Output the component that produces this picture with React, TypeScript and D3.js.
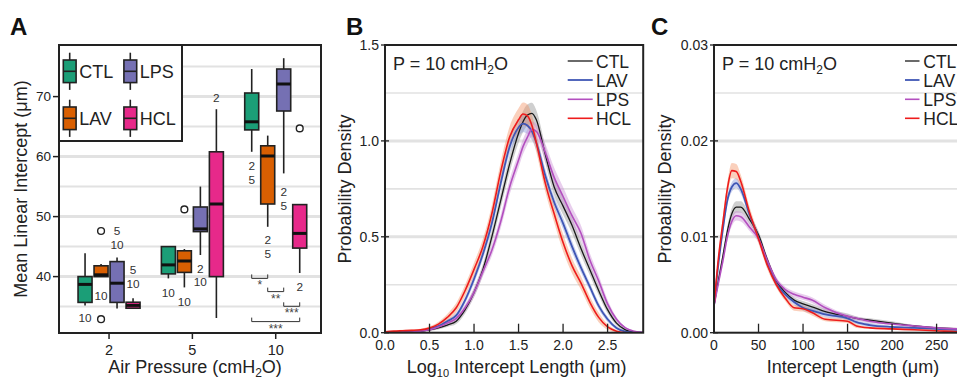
import React from 'react';
import * as d3 from 'd3';

const FONT = 'Liberation Sans, Arial, Helvetica, sans-serif';

// ---- panel A: mean linear intercept boxplots ----
const pressures = ['2', '5', '10'];
const groups = ['CTL', 'LAV', 'LPS', 'HCL'];
const boxColors = ['#1b9e77', '#d95f02', '#7570b3', '#e7298a'];
// [low whisker, q1, median, q3, high whisker] at 2, 5, 10 cmH2O
const ctlStats = [[35.2, 35.7, 38.7, 40.0, 43.9], [39.7, 40.45, 41.95, 45.0, 45.1], [60.8, 64.45, 65.8, 70.6, 74.6]];
const lavStats = [[40.0, 40.0, 40.3, 41.8, 42.1], [38.2, 40.7, 42.6, 44.3, 44.6], [48.3, 52.1, 60.1, 61.8, 63.5]];
const lpsStats = [[34.7, 35.7, 38.9, 42.5, 43.2], [43.6, 47.5, 47.95, 51.6, 55.0], [57.2, 67.6, 72.1, 74.6, 76.4]];
const hclStats = [[34.7, 34.73, 35.2, 35.73, 36.4], [33.1, 40.0, 52.1, 60.8, 67.9], [40.6, 44.75, 47.2, 52.0, 52.0]];
const outliers = [
  { p: '2', g: 'LAV', v: 47.6 },
  { p: '2', g: 'LAV', v: 32.9 },
  { p: '5', g: 'LAV', v: 51.2 },
  { p: '10', g: 'HCL', v: 64.7 },
];
// significance marks (pressures differing), v = centre of first line
const sigLabels = [
  { p: '2', g: 'LPS', v: 47.7, t: ['5', '10'] },
  { p: '2', g: 'LAV', v: 36.8, t: ['10'] },
  { p: '2', g: 'CTL', v: 33.1, t: ['10'] },
  { p: '2', g: 'HCL', v: 41.2, t: ['5', '10'] },
  { p: '5', g: 'CTL', v: 37.3, t: ['10'] },
  { p: '5', g: 'LAV', v: 35.8, t: ['10'] },
  { p: '5', g: 'LPS', v: 41.4, t: ['2', '10'] },
  { p: '5', g: 'HCL', v: 69.8, t: ['2'] },
  { p: '10', g: 'CTL', v: 58.5, t: ['2', '5'] },
  { p: '10', g: 'LPS', v: 54.2, t: ['2', '5'] },
  { p: '10', g: 'LAV', v: 46.15, t: ['2', '5'] },
  { p: '10', g: 'HCL', v: 38.3, t: ['2'] },
];
const brackets = [
  { p: '10', from: 'CTL', to: 'LAV', v: 39.7, t: '*' },
  { p: '10', from: 'LAV', to: 'LPS', v: 37.5, t: '**' },
  { p: '10', from: 'LPS', to: 'HCL', v: 35.05, t: '***' },
  { p: '10', from: 'CTL', to: 'HCL', v: 32.5, t: '***' },
];
const yTicksA = [40, 50, 60, 70];
const yMinorA = [35, 45, 55, 65, 75];

// ---- panel B: log10 intercept length densities ----
const logLen = [0, 0.1, 0.2, 0.3, 0.4, 0.5, 0.6, 0.7, 0.8, 0.9, 1.0, 1.1, 1.2, 1.3, 1.4, 1.5, 1.55, 1.6, 1.65, 1.7, 1.8, 1.9, 2.0, 2.1, 2.2, 2.3, 2.4, 2.5, 2.6, 2.7, 2.8, 2.9];
const ctlLog = [0, 0, 0.002, 0.004, 0.008, 0.015, 0.025, 0.04, 0.06, 0.12, 0.21, 0.33, 0.5, 0.69, 0.88, 1.04, 1.1, 1.135, 1.144, 1.11, 0.93, 0.76, 0.66, 0.56, 0.44, 0.33, 0.22, 0.12, 0.05, 0.015, 0.003, 0];
const lavLog = [0, 0.001, 0.003, 0.006, 0.01, 0.02, 0.035, 0.06, 0.09, 0.17, 0.28, 0.41, 0.57, 0.78, 0.97, 1.07, 1.09, 1.08, 1.05, 0.99, 0.82, 0.68, 0.57, 0.45, 0.34, 0.24, 0.14, 0.07, 0.025, 0.006, 0.001, 0];
const lpsLog = [0, 0, 0.002, 0.004, 0.008, 0.015, 0.03, 0.05, 0.075, 0.13, 0.21, 0.32, 0.43, 0.58, 0.76, 0.9, 0.97, 1.02, 1.06, 1.05, 0.94, 0.81, 0.71, 0.61, 0.52, 0.38, 0.27, 0.15, 0.07, 0.025, 0.008, 0.002];
const hclLog = [0.005, 0.008, 0.01, 0.012, 0.015, 0.025, 0.045, 0.08, 0.13, 0.22, 0.33, 0.45, 0.62, 0.84, 1.02, 1.11, 1.14, 1.13, 1.08, 0.99, 0.78, 0.62, 0.47, 0.35, 0.26, 0.16, 0.08, 0.03, 0.008, 0, 0, 0];
const ctlLogSe = [0, 0, 0.002, 0.003, 0.004, 0.006, 0.008, 0.01, 0.015, 0.02, 0.025, 0.03, 0.035, 0.04, 0.045, 0.05, 0.055, 0.055, 0.055, 0.05, 0.045, 0.045, 0.045, 0.04, 0.035, 0.03, 0.025, 0.02, 0.012, 0.006, 0.002, 0];
const lavLogSe = [0, 0, 0.002, 0.003, 0.004, 0.006, 0.008, 0.01, 0.014, 0.018, 0.022, 0.026, 0.03, 0.035, 0.04, 0.045, 0.045, 0.045, 0.045, 0.04, 0.035, 0.03, 0.03, 0.03, 0.025, 0.02, 0.018, 0.014, 0.008, 0.004, 0.001, 0];
const lpsLogSe = [0, 0, 0.002, 0.003, 0.004, 0.006, 0.008, 0.01, 0.014, 0.018, 0.022, 0.026, 0.03, 0.035, 0.04, 0.04, 0.04, 0.04, 0.04, 0.04, 0.045, 0.05, 0.05, 0.045, 0.04, 0.035, 0.03, 0.022, 0.012, 0.006, 0.002, 0.001];
const hclLogSe = [0.003, 0.004, 0.005, 0.005, 0.006, 0.008, 0.012, 0.018, 0.025, 0.03, 0.035, 0.04, 0.045, 0.05, 0.055, 0.06, 0.06, 0.06, 0.055, 0.05, 0.045, 0.045, 0.045, 0.04, 0.035, 0.03, 0.025, 0.015, 0.006, 0, 0, 0];

// ---- panel C: intercept length densities ----
const lenUm = [0, 5, 10, 15, 20, 25, 30, 40, 50, 60, 70, 80, 90, 100, 110, 125, 150, 160, 175, 200, 225, 250, 275, 290];
const ctlLen = [0.0028, 0.0055, 0.008, 0.0106, 0.0124, 0.0131, 0.0131, 0.0118, 0.0102, 0.0076, 0.0054, 0.0042, 0.0034, 0.003, 0.0027, 0.0022, 0.0017, 0.0015, 0.0013, 0.001, 0.0007, 0.0005, 0.0004, 0.0003];
const lavLen = [0.0028, 0.0072, 0.0108, 0.0138, 0.0152, 0.0156, 0.015, 0.0123, 0.0099, 0.0072, 0.0051, 0.004, 0.0032, 0.0026, 0.0023, 0.0019, 0.0015, 0.0011, 0.0008, 0.0006, 0.0005, 0.0004, 0.0003, 0.0003];
const lpsLen = [0.0028, 0.0052, 0.0075, 0.01, 0.0116, 0.0122, 0.0121, 0.011, 0.0098, 0.0075, 0.0055, 0.0045, 0.004, 0.0037, 0.0034, 0.0026, 0.0017, 0.0015, 0.0012, 0.0009, 0.0007, 0.0005, 0.0004, 0.0004];
const hclLen = [0.0028, 0.0078, 0.0115, 0.015, 0.0169, 0.0168, 0.0158, 0.0125, 0.0098, 0.007, 0.005, 0.0036, 0.0026, 0.0025, 0.0021, 0.0014, 0.0012, 0.0007, 0.0005, 0.0004, 0.0003, 0.0002, 0.0001, 0.0001];
const ctlLenSe = [0.0002, 0.0003, 0.0004, 0.0005, 0.0006, 0.0006, 0.0006, 0.0005, 0.0004, 0.0003, 0.0003, 0.0003, 0.0003, 0.0003, 0.0003, 0.0003, 0.0003, 0.0002, 0.0002, 0.0002, 0.0001, 0.0001, 0.0001, 0.0001];
const lavLenSe = [0.0002, 0.0003, 0.0004, 0.0005, 0.0005, 0.0005, 0.0005, 0.0004, 0.0004, 0.0003, 0.0003, 0.0003, 0.0003, 0.0003, 0.0003, 0.0003, 0.0002, 0.0002, 0.0002, 0.0001, 0.0001, 0.0001, 0.0001, 0.0001];
const lpsLenSe = [0.0002, 0.0003, 0.0004, 0.0004, 0.0005, 0.0005, 0.0005, 0.0004, 0.0004, 0.0003, 0.0003, 0.0003, 0.0003, 0.0003, 0.0003, 0.0003, 0.0002, 0.0002, 0.0002, 0.0001, 0.0001, 0.0001, 0.0001, 0.0001];
const hclLenSe = [0.0002, 0.0004, 0.0006, 0.0007, 0.0008, 0.0008, 0.0007, 0.0006, 0.0005, 0.0004, 0.0003, 0.0003, 0.0003, 0.0003, 0.0003, 0.0002, 0.0002, 0.0002, 0.0001, 0.0001, 0.0001, 0.0001, 0.0001, 0.0001];

const lineColors = ['#1a1a1a', '#3f56b5', '#b34fbf', '#ee1c1c'];
const bandColors = ['#8c8c8c', '#8493d8', '#c98ad3', '#f49060'];
const lineWidths = [1.3, 1.8, 1.6, 1.6];

const GRID = '#e2e2e2';

function PanelA() {
  const left = 59, right = 321, top = 45, bottom = 333;
  const x = d3.scalePoint<string>().domain(pressures).range([left, right]).padding(0.572).align(0.525);
  const dx = d3.scalePoint<string>().domain(groups).range([-24, 24]);
  const y = d3.scaleLinear().domain([30.6, 78.6]).range([bottom, top]);
  const cx = (p: string, g: string) => (x(p) as number) + (dx(g) as number);
  const stats = [ctlStats, lavStats, lpsStats, hclStats];
  const bw = 14;
  return (
    <g fontFamily={FONT}>
      {yMinorA.map(v => <line key={'m' + v} x1={left} x2={right} y1={y(v)} y2={y(v)} stroke={GRID} strokeWidth={2} />)}
      {yTicksA.map(v => <line key={'g' + v} x1={left} x2={right} y1={y(v)} y2={y(v)} stroke={GRID} strokeWidth={3} />)}
      {groups.map((g, gi) => pressures.map((p, pi) => {
        const [lo, q1, med, q3, hi] = stats[gi][pi];
        const xc = cx(p, g);
        return (
          <g key={g + p}>
            <line x1={xc} x2={xc} y1={y(lo)} y2={y(hi)} stroke="#222" strokeWidth={1.6} />
            <rect x={xc - bw / 2} y={y(q3)} width={bw} height={y(q1) - y(q3)} fill={boxColors[gi]} stroke="#222" strokeWidth={1.6} />
            <line x1={xc - bw / 2} x2={xc + bw / 2} y1={y(med)} y2={y(med)} stroke="#111" strokeWidth={3} />
          </g>
        );
      }))}
      {outliers.map((o, i) => <circle key={'o' + i} cx={cx(o.p, o.g)} cy={y(o.v)} r={3.4} fill="#fff" stroke="#222" strokeWidth={1.4} />)}
      {sigLabels.map((s, i) => (
        <text key={'s' + i} x={cx(s.p, s.g)} y={y(s.v) + 4.3} fontSize={11.8} fill="#333" textAnchor="middle">
          {s.t.map((t, j) => <tspan key={j} x={cx(s.p, s.g)} dy={j === 0 ? 0 : 13.8}>{t}</tspan>)}
        </text>
      ))}
      {brackets.map((b, i) => {
        const x1 = cx(b.p, b.from), x2 = cx(b.p, b.to), yy = y(b.v);
        return (
          <g key={'b' + i}>
            <path d={`M${x1},${yy - 4}V${yy}H${x2}V${yy - 4}`} fill="none" stroke="#333" strokeWidth={1} />
            <text x={(x1 + x2) / 2} y={yy + 11} fontSize={12} fill="#444" textAnchor="middle">{b.t}</text>
          </g>
        );
      })}
      {/* legend */}
      <rect x={left} y={top} width={123} height={96} fill="#fff" stroke="#222" strokeWidth={2} />
      {groups.map((g, i) => {
        const ix = 69.7 + Math.floor(i / 2) * 60.6;
        const iy = 71.3 + (i % 2) * 47;
        return (
          <g key={'l' + g}>
            <line x1={ix} x2={ix} y1={iy - 18.6} y2={iy + 18.6} stroke="#222" strokeWidth={1.6} />
            <rect x={ix - 6.4} y={iy - 11.3} width={12.8} height={22.6} fill={boxColors[i]} stroke="#222" strokeWidth={1.6} />
            <line x1={ix - 6.4} x2={ix + 6.4} y1={iy} y2={iy} stroke="#222" strokeWidth={1.6} />
            <text x={ix + 9.5} y={iy + 7} fontSize={18} fill="#222">{g}</text>
          </g>
        );
      })}
      <rect x={left} y={top} width={right - left} height={bottom - top} fill="none" stroke="#222" strokeWidth={2} />
      {yTicksA.map(v => (
        <g key={'t' + v}>
          <line x1={left - 6} x2={left} y1={y(v)} y2={y(v)} stroke="#222" strokeWidth={1.5} />
          <text x={left - 8} y={y(v)} fontSize={13.5} fill="#222" textAnchor="end" dominantBaseline="central">{v}</text>
        </g>
      ))}
      {pressures.map(p => (
        <g key={'x' + p}>
          <line x1={x(p)} x2={x(p)} y1={bottom} y2={bottom + 6} stroke="#222" strokeWidth={1.5} />
          <text x={x(p)} y={355} fontSize={14.5} fill="#222" textAnchor="middle">{p}</text>
        </g>
      ))}
      <text transform="translate(27,189) rotate(-90)" fontSize={18} fill="#222" textAnchor="middle">Mean Linear Intercept (μm)</text>
      <text x={195} y={373} fontSize={18} fill="#222" textAnchor="middle">
        <tspan>Air Pressure (cmH</tspan><tspan dy={4} fontSize={12}>2</tspan><tspan dy={-4}>O)</tspan>
      </text>
      <text x={10} y={35} fontSize={24} fontWeight="bold" fill="#111">A</text>
    </g>
  );
}

type DProps = {
  id: string;
  left: number;
  xDomain: [number, number];
  yDomain: [number, number];
  xTicks: number[];
  yTicks: number[];
  yMinor: number[];
  xFmt: (v: number) => string;
  yFmt: (v: number) => string;
  xs: number[];
  vals: number[][];
  ses: number[][];
  legX0: number;
  legX1: number;
  legTextX: number;
  letter: string;
  letterX: number;
  yTitleX: number;
  xTitleX: number;
  logTitle: boolean;
};

function DensityPanel(props: DProps) {
  const top = 45, bottom = 332.7, width = 258.2;
  const left = props.left, right = left + width;
  const x = d3.scaleLinear().domain(props.xDomain).range([left, right]);
  const y = d3.scaleLinear().domain(props.yDomain).range([bottom, top]);
  const line = d3.line<number>().x((_, i) => x(props.xs[i])).y(d => y(d)).curve(d3.curveMonotoneX);
  const legY = [61, 80, 99.3, 118.3];
  return (
    <g fontFamily={FONT}>
      <clipPath id={props.id}>
        <rect x={left} y={top} width={width} height={bottom - top} />
      </clipPath>
      {props.yMinor.map(v => <line key={'m' + v} x1={left} x2={right} y1={y(v)} y2={y(v)} stroke={GRID} strokeWidth={1.6} />)}
      {props.yTicks.slice(1, -1).map(v => <line key={'g' + v} x1={left} x2={right} y1={y(v)} y2={y(v)} stroke={GRID} strokeWidth={3} />)}
      <g clipPath={`url(#${props.id})`}>
        {props.vals.map((vs, k) => {
          const se = props.ses[k];
          const area = d3.area<number>()
            .x((_, i) => x(props.xs[i]))
            .y0((d, i) => y(Math.max(0, d - se[i])))
            .y1((d, i) => y(d + se[i]))
            .curve(d3.curveMonotoneX);
          return <path key={'a' + k} d={area(vs) || ''} fill={bandColors[k]} opacity={0.42} />;
        })}
        {props.vals.map((vs, k) => (
          <path key={'l' + k} d={line(vs) || ''} fill="none" stroke={lineColors[k]} strokeWidth={lineWidths[k]} />
        ))}
      </g>
      <rect x={left} y={top} width={width} height={bottom - top} fill="none" stroke="#222" strokeWidth={2} />
      {props.yTicks.map(v => (
        <g key={'yt' + v}>
          <line x1={left - 4} x2={left + 4} y1={y(v)} y2={y(v)} stroke="#222" strokeWidth={1.3} />
          <text x={left - 6} y={y(v)} fontSize={14} fill="#222" textAnchor="end" dominantBaseline="central">{props.yFmt(v)}</text>
        </g>
      ))}
      {props.xTicks.map(v => (
        <g key={'xt' + v}>
          <line x1={x(v)} x2={x(v)} y1={bottom} y2={bottom - 9} stroke="#222" strokeWidth={1.3} />
          <text x={x(v)} y={349.5} fontSize={14} fill="#222" textAnchor="middle">{props.xFmt(v)}</text>
        </g>
      ))}
      <text x={left + 8} y={69.5} fontSize={18} fill="#222">
        <tspan>P = 10 cmH</tspan><tspan dy={4} fontSize={12}>2</tspan><tspan dy={-4}>O</tspan>
      </text>
      {groups.map((g, k) => (
        <g key={'lg' + g}>
          <line x1={props.legX0} x2={props.legX1} y1={legY[k]} y2={legY[k]} stroke={lineColors[k]} strokeWidth={lineWidths[k]} />
          <text x={props.legTextX} y={legY[k] + 6.5} fontSize={17.5} fill="#222">{g}</text>
        </g>
      ))}
      <text transform={`translate(${props.yTitleX},189) rotate(-90)`} fontSize={18} fill="#222" textAnchor="middle">Probability Density</text>
      {props.logTitle ? (
        <text x={props.xTitleX} y={373} fontSize={18} fill="#222" textAnchor="middle">
          <tspan>Log</tspan><tspan dy={4} fontSize={11}>10</tspan><tspan dy={-4}> Intercept Length (μm)</tspan>
        </text>
      ) : (
        <text x={props.xTitleX} y={373} fontSize={18} fill="#222" textAnchor="middle">Intercept Length (μm)</text>
      )}
      <text x={props.letterX} y={35} fontSize={24} fontWeight="bold" fill="#111">{props.letter}</text>
    </g>
  );
}

export default function App() {
  const f1 = d3.format('.1f');
  const f2 = d3.format('.2f');
  return (
    <svg width={957} height={380} style={{ position: 'absolute', left: 0, top: 0, background: '#fff' }}>
      <rect width={957} height={380} fill="#fff" />
      <PanelA />
      <DensityPanel
        id="clipB" left={385} xDomain={[0, 2.9]} yDomain={[0, 1.5]}
        xTicks={[0, 0.5, 1, 1.5, 2, 2.5]} yTicks={[0, 0.5, 1, 1.5]} yMinor={[0.25, 0.75, 1.25]}
        xFmt={f1} yFmt={f1} xs={logLen}
        vals={[ctlLog, lavLog, lpsLog, hclLog]} ses={[ctlLogSe, lavLogSe, lpsLogSe, hclLogSe]}
        legX0={567.7} legX1={592.7} legTextX={596}
        letter="B" letterX={346} yTitleX={351} xTitleX={516.7} logTitle={true}
      />
      <DensityPanel
        id="clipC" left={714} xDomain={[0, 290]} yDomain={[0, 0.03]}
        xTicks={[0, 50, 100, 150, 200, 250]} yTicks={[0, 0.01, 0.02, 0.03]} yMinor={[0.005, 0.015, 0.025]}
        xFmt={d3.format('d')} yFmt={f2} xs={lenUm}
        vals={[ctlLen, lavLen, lpsLen, hclLen]} ses={[ctlLenSe, lavLenSe, lpsLenSe, hclLenSe]}
        legX0={905} legX1={919.5} legTextX={923.3}
        letter="C" letterX={651} yTitleX={671} xTitleX={853} logTitle={false}
      />
    </svg>
  );
}
